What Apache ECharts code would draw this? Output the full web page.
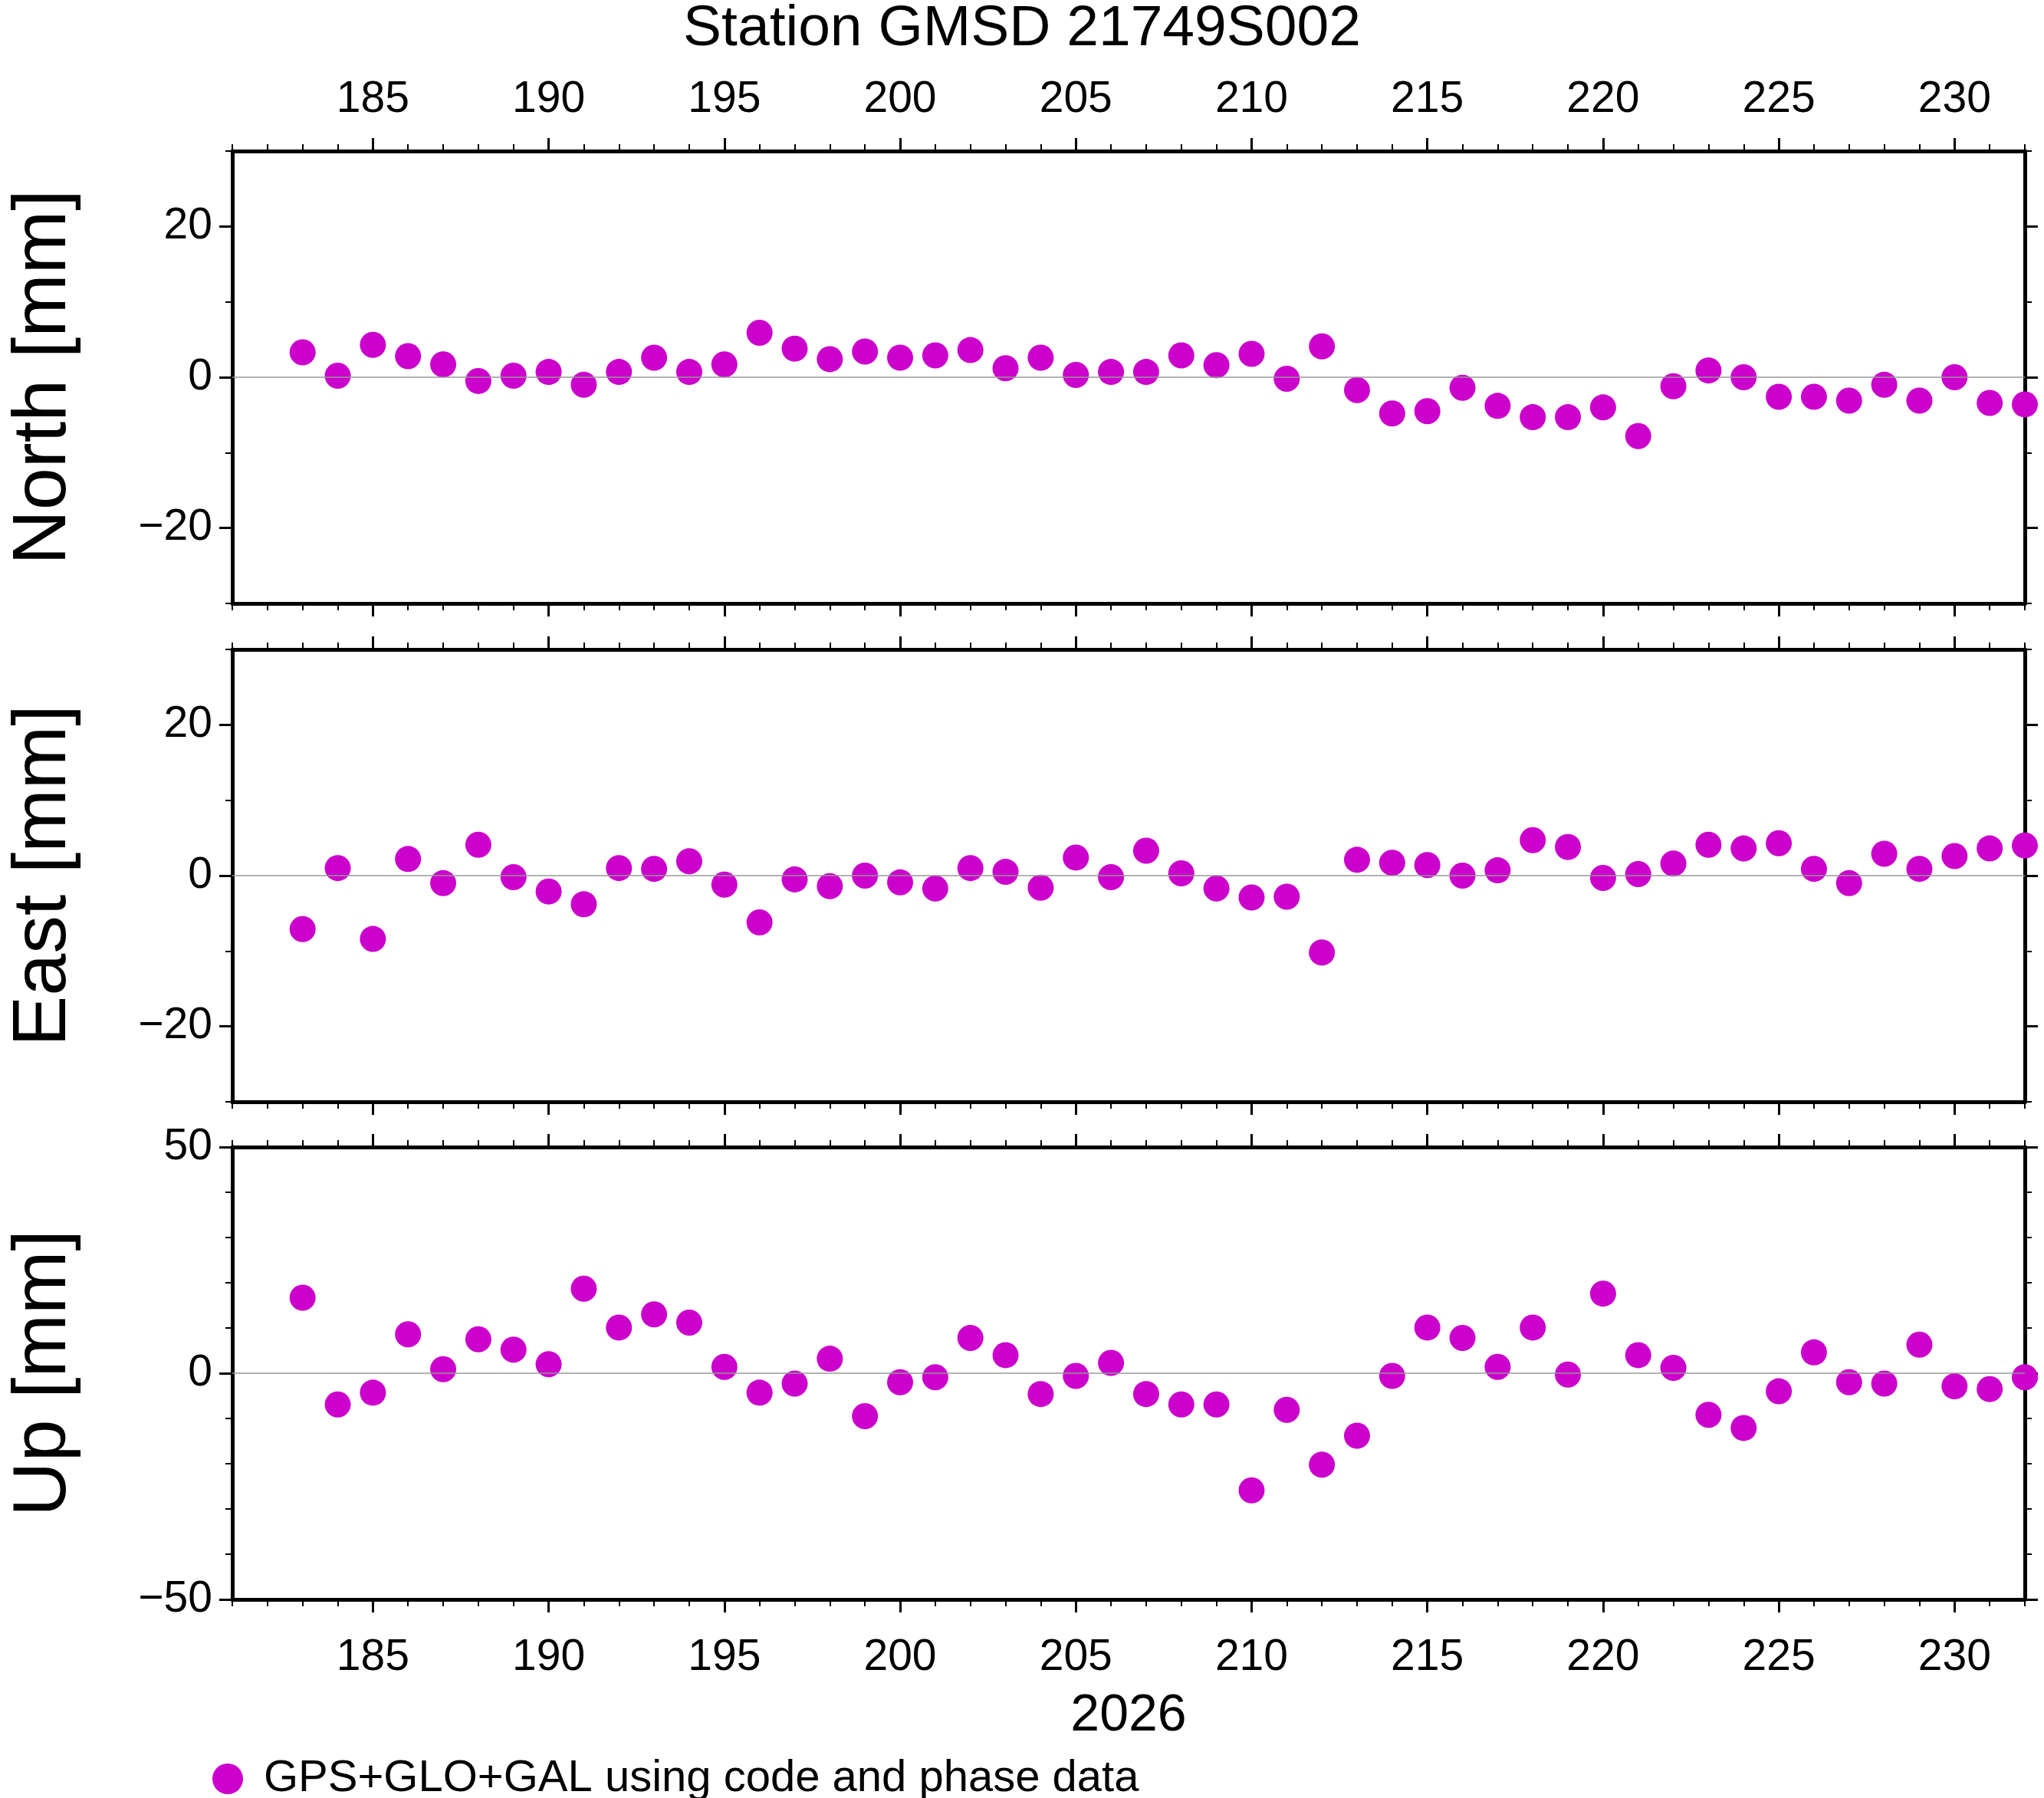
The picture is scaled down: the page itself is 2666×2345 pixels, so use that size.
<!DOCTYPE html>
<html>
<head>
<meta charset="utf-8">
<script src="https://cdn.jsdelivr.net/npm/echarts@6/dist/echarts.min.js"></script>
<style>html,body{margin:0;padding:0;background:#fff}#c{width:2666px;height:2345px}</style>
</head>
<body>
<div id="c"></div>
<script>
// day of year
const days = []
for (let d = 183; d <= 232; d++) days.push(d)

const north = [3.3,0.2,4.3,2.8,1.7,-0.5,0.2,0.7,-1,0.7,2.6,0.7,1.7,5.9,3.8,2.4,3.4,2.6,2.9,3.6,
  1.2,2.6,0.3,0.7,0.7,2.9,1.6,3.1,-0.2,4.1,-1.7,-4.8,-4.5,-1.4,-3.8,-5.3,-5.3,-4,-7.8,-1.2,
  0.9,0,-2.6,-2.6,-3.1,-1,-3.1,0,-3.4,-3.6]
const east = [-7.1,1,-8.4,2.2,-1,4.1,-0.2,-2.1,-3.8,1,0.9,1.9,-1.2,-6.2,-0.5,-1.4,0,-0.9,-1.7,1,
  0.5,-1.6,2.4,-0.2,3.3,0.3,-1.7,-2.9,-2.8,-10.2,2.1,1.7,1.4,0,0.7,4.7,3.8,-0.3,0.2,1.6,
  4.1,3.6,4.3,0.9,-1,2.9,0.9,2.6,3.6,4]
const up = [16.7,-6.9,-4.3,8.6,0.9,7.5,5.2,2,18.7,10.1,13,11.2,1.4,-4.3,-2.3,3.2,-9.5,-2,-0.9,7.8,
  4,-4.6,-0.6,2.3,-4.6,-6.9,-6.9,-25.9,-8.1,-20.2,-13.8,-0.6,10.1,7.8,1.4,10.1,-0.3,17.6,4,1.2,
  -9.2,-12.1,-4,4.6,-2,-2.3,6.3,-2.9,-3.5,-0.9]

const xMajor = [185,190,195,200,205,210,215,220,225,230]
const xMinor = []
for (let d = 181; d <= 232; d++) xMinor.push(d)

const panels = [
  {name: 'North [mm]', data: north, min: -30, max: 30, major: [-20,0,20], minor: [-30,-10,10,30]},
  {name: 'East [mm]', data: east, min: -30, max: 30, major: [-20,0,20], minor: [-30,-10,10,30]},
  {name: 'Up [mm]', data: up, min: -50, max: 50, major: [-50,0,50], minor: [-40,-30,-20,-10,10,20,30,40]}
]

const font = 'Liberation Sans'
const tops = [197, 847, 1496]
const grids = [], xAxes = [], yAxes = [], series = []

panels.forEach((p, g) => {
  grids.push({left: 277, width: 2364, top: tops[g], height: 590})
  const xBase = {gridIndex: g, type: 'value', min: 181, max: 232, splitLine: {show: false}}
  ;['bottom', 'top'].forEach(pos => {
    const labels = (pos === 'top' && g === 0) || (pos === 'bottom' && g === 2)
    xAxes.push(Object.assign({}, xBase, {
      position: pos,
      name: (pos === 'bottom' && g === 2) ? '2026' : '',
      nameLocation: 'middle', nameGap: 118,
      nameTextStyle: {fontFamily: font, fontSize: 68, color: '#000'},
      axisLine: {show: true, onZero: false, lineStyle: {color: '#000', width: 5}},
      axisTick: {show: true, length: 17, customValues: xMajor, lineStyle: {color: '#000', width: 3}},
      axisLabel: {show: labels, customValues: xMajor, margin: pos === 'top' ? 38 : 48, fontFamily: font, fontSize: 57, color: '#000'}
    }))
    xAxes.push(Object.assign({}, xBase, {
      position: pos,
      axisLine: {show: false, onZero: false},
      axisTick: {show: true, length: 9, customValues: xMinor, lineStyle: {color: '#000', width: 2}},
      axisLabel: {show: false}
    }))
  })
  const yBase = {gridIndex: g, type: 'value', min: p.min, max: p.max, splitLine: {show: false}}
  ;['left', 'right'].forEach(pos => {
    yAxes.push(Object.assign({}, yBase, {
      position: pos,
      name: pos === 'left' ? p.name : '',
      nameLocation: 'middle', nameGap: 196, nameRotate: 90,
      nameTextStyle: {fontFamily: font, fontSize: 99, color: '#000'},
      axisLine: {show: true, onZero: false, lineStyle: {color: '#000', width: 5}},
      axisTick: {show: true, length: 17, customValues: p.major, lineStyle: {color: '#000', width: 3}},
      axisLabel: {show: pos === 'left', customValues: p.major, margin: 26, fontFamily: font, fontSize: 57, color: '#000',
        formatter: v => v < 0 ? '\u2212' + Math.abs(v) : String(v)}
    }))
    yAxes.push(Object.assign({}, yBase, {
      position: pos,
      axisLine: {show: false, onZero: false},
      axisTick: {show: true, length: 9, customValues: p.minor, lineStyle: {color: '#000', width: 2}},
      axisLabel: {show: false}
    }))
  })
  series.push({
    name: 'GPS+GLO+GAL using code and phase data',
    type: 'scatter',
    xAxisIndex: g * 4, yAxisIndex: g * 4,
    symbolSize: 34,
    clip: false,
    itemStyle: {color: '#cc00cc', opacity: 1},
    data: days.map((d, i) => [d, p.data[i]]),
    markLine: {
      silent: true, symbol: 'none', label: {show: false},
      lineStyle: {color: '#999', width: 1.5, type: 'solid'},
      data: [{yAxis: 0}]
    },
    z: 3
  })
})

const chart = echarts.init(document.getElementById('c'))
chart.setOption({
  backgroundColor: '#fff',
  animation: false,
  title: {
    text: 'Station GMSD 21749S002', left: 'center', top: -4,
    textStyle: {fontFamily: font, fontSize: 75, fontWeight: 'normal', color: '#000'}
  },
  legend: {
    left: 272, top: 2286, itemWidth: 40, itemHeight: 40, itemGap: 20,
    data: [{name: 'GPS+GLO+GAL using code and phase data', icon: 'circle'}],
    textStyle: {fontFamily: font, fontSize: 58, color: '#000', padding: [0, 0, 0, 22]}
  },
  grid: grids,
  xAxis: xAxes,
  yAxis: yAxes,
  series: series
})
</script>
</body>
</html>
